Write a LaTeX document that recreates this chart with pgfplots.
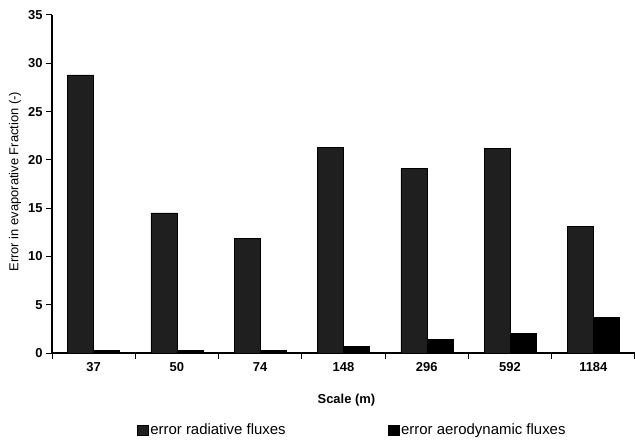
\documentclass[border=0pt]{standalone}
\usepackage{fontspec}
\setmainfont{Liberation Sans}
\usepackage{pgfplots}
\pgfplotsset{compat=1.18}
\begin{document}
\begin{tikzpicture}
\begin{axis}[
  scale only axis, width=583bp, height=338bp,
  ybar, bar width=26bp, ybar=0pt,
  legend image code/.code={\draw[#1] (0bp,-5bp) rectangle (11bp,5bp);},
  xmin=-0.5, xmax=6.5, ymin=0, ymax=35,
  xtick={-0.5,0.5,...,6.5},
  xticklabels={37,50,74,148,296,592,1184,{}},
  xticklabel style={xshift=41.6bp},
  ytick={0,5,...,35},
  /pgf/number format/assume math mode=true,
  axis lines*=left,
  axis line style={line width=1.4bp},
  tick align=outside,
  major tick length=6bp,
  tick style={line width=1bp, black},
  ticklabel style={font=\fontsize{13}{15}\selectfont\bfseries},
  xlabel={Scale (m)},
  xlabel style={font=\fontsize{13}{15}\selectfont\bfseries, at={(axis description cs:0.505,-0.139)}, anchor=center},
  ylabel={Error in evaporative Fraction (-)},
  ylabel style={font=\fontsize{13}{15}\selectfont, at={(axis description cs:-0.0635,0.507)}, anchor=center},
  legend style={at={(0.515,-0.228)}, anchor=center, draw=none, legend columns=2,
    font=\fontsize{15}{17}\selectfont,
    /tikz/every even column/.append style={column sep=100bp}},
]
\addplot[fill=black!88, draw=black] coordinates {
  (0,28.8) (1,14.5) (2,11.9) (3,21.3) (4,19.1) (5,21.2) (6,13.1)
};
\addlegendentry{error radiative fluxes}
\addplot[fill=black, draw=black] coordinates {
  (0,0.3) (1,0.3) (2,0.3) (3,0.7) (4,1.4) (5,2.0) (6,3.7)
};
\addlegendentry{error aerodynamic fluxes}
\end{axis}
\pgfresetboundingbox
\useasboundingbox (-52bp,-87bp) rectangle (583bp,353bp);
\end{tikzpicture}
\end{document}
